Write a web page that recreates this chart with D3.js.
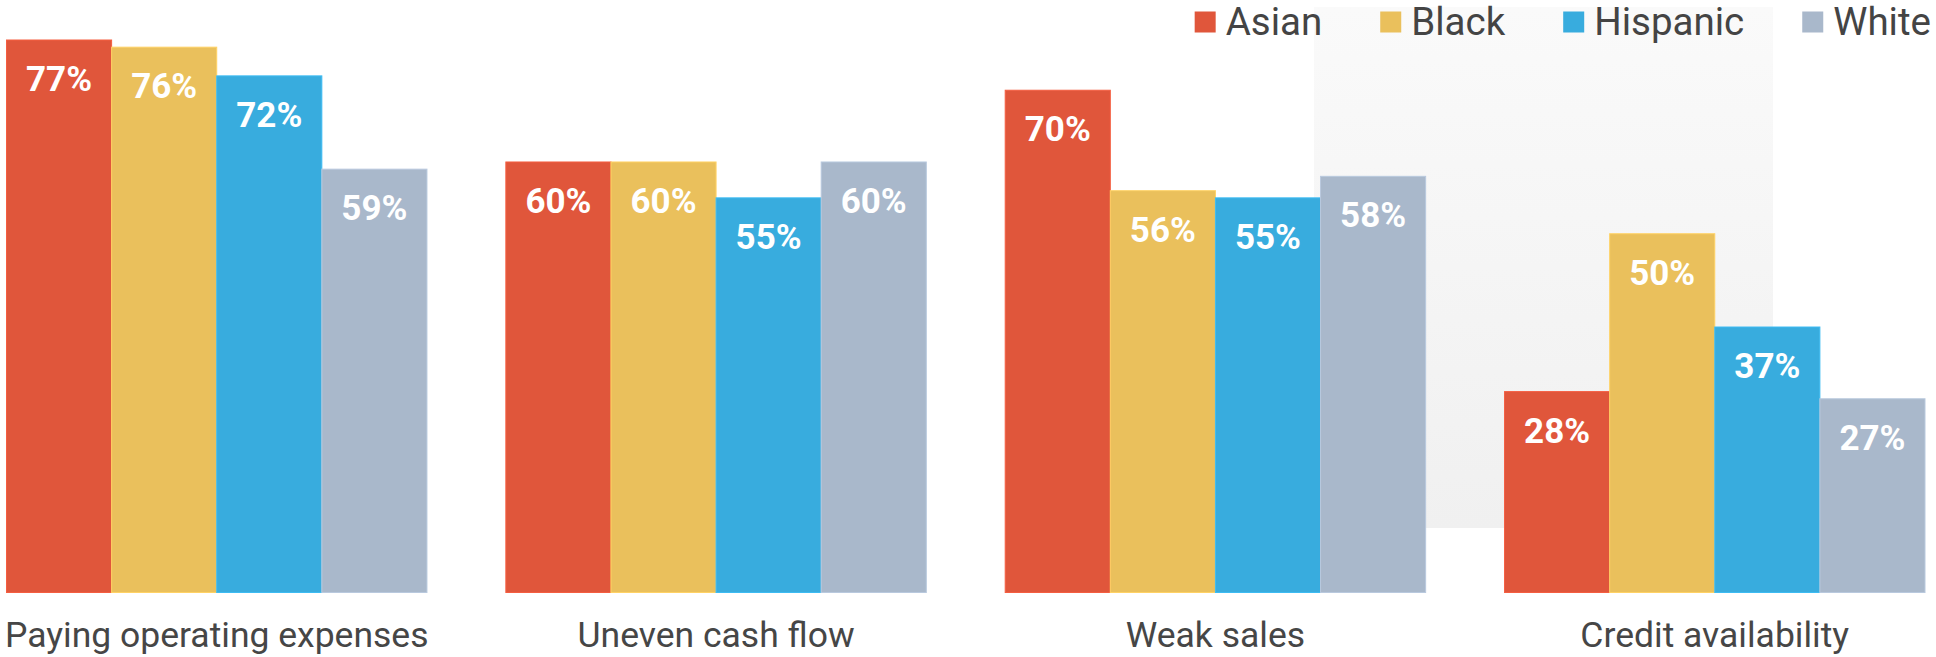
<html>
  <head>
    <meta charset="utf-8">
    <title>Financial challenges by race</title>
    <style type="text/css">
body {
  margin: 0;
  background: #fff;
}
#chart text {
  font-family: Roboto, "Noto Sans", sans-serif;
}
.value-label {
  fill: #fff;
  font-weight: 700;
  font-size: 35px;
}
.category-label {
  fill: #464646;
  font-size: 35.5px;
}
.legend-label {
  fill: #444;
  font-size: 38.5px;
}
    </style>
    <script type="text/javascript" src="https://cdn.jsdelivr.net/npm/d3@7/dist/d3.min.js"></script>
  </head>
  <body>
    <div id="chart"></div>
    <script type="text/javascript">
      // Data
      var categories = ["Paying operating expenses", "Uneven cash flow", "Weak sales", "Credit availability"];
      var series = ["Asian", "Black", "Hispanic", "White"];
      var asian = [77, 60, 70, 28];
      var black = [76, 60, 56, 50];
      var hispanic = [72, 55, 55, 37];
      var white = [59, 60, 58, 27];
      var colors = ["#e0563b", "#eac05c", "#38acde", "#a9b8cb"];

      var seriesValues = [asian, black, hispanic, white];

      // Constants
      var w = 1936, h = 657;
      var baseline = 592.5;

      var svg = d3.select("#chart").append("svg")
           .attr("width", w)
           .attr("height", h);

      // faint grey panel sitting behind the right half
      var defs = svg.append("defs");
      var grad = defs.append("linearGradient")
           .attr("id", "panel-grad")
           .attr("x1", 0).attr("y1", 0).attr("x2", 0).attr("y2", 1);
      grad.append("stop").attr("offset", "0%").attr("stop-color", "#fafafa");
      grad.append("stop").attr("offset", "100%").attr("stop-color", "#f0f0f0");
      svg.append("rect")
           .attr("x", 1314)
           .attr("y", 7)
           .attr("width", 459)
           .attr("height", 521)
           .attr("fill", "url(#panel-grad)");

      var x0 = d3.scaleBand()
           .domain(categories)
           .range([6.5, 1925])
           .paddingInner(0.158)
           .paddingOuter(0);

      var x1 = d3.scaleBand()
           .domain(series)
           .range([0, x0.bandwidth()]);

      var y = d3.scaleLinear()
           .domain([0, 77])
           .range([baseline, 40]);

      var color = d3.scaleOrdinal().domain(series).range(colors);

      var rows = categories.map(function(c, i) {
        return {
          category: c,
          bars: series.map(function(s, j) { return {key: s, value: seriesValues[j][i]}; })
        };
      });

      var groups = svg.selectAll(".group")
           .data(rows)
           .enter().append("g")
           .attr("class", "group")
           .attr("transform", function(d) { return "translate(" + x0(d.category) + ",0)"; });

      groups.selectAll("rect")
           .data(function(d) { return d.bars; })
           .enter().append("rect")
           .attr("x", function(d) { return x1(d.key); })
           .attr("y", function(d) { return y(d.value); })
           .attr("width", x1.bandwidth())
           .attr("height", function(d) { return baseline - y(d.value); })
           .attr("fill", function(d) { return color(d.key); })
           .attr("stroke", function(d) { return d3.color(color(d.key)).brighter(0.25); })
           .attr("stroke-width", 1);

      groups.selectAll(".value-label")
           .data(function(d) { return d.bars; })
           .enter().append("text")
           .attr("class", "value-label")
           .attr("x", function(d) { return x1(d.key) + x1.bandwidth() / 2; })
           .attr("y", function(d) { return y(d.value) + 51; })
           .attr("text-anchor", "middle")
           .text(function(d) { return d.value + "%"; });

      groups.append("text")
           .attr("class", "category-label")
           .attr("x", x0.bandwidth() / 2)
           .attr("y", 647)
           .attr("text-anchor", "middle")
           .text(function(d) { return d.category; });

      // Legend, laid out right to left so it ends at the right edge
      var legend = svg.append("g").attr("class", "legend");
      var lx = 1931;
      series.slice().reverse().forEach(function(s) {
        var t = legend.append("text")
             .attr("class", "legend-label")
             .attr("y", 34.5)
             .text(s);
        var tw = t.node().getComputedTextLength();
        t.attr("x", lx - tw);
        legend.append("rect")
             .attr("x", lx - tw - 31)
             .attr("y", 11.5)
             .attr("width", 21)
             .attr("height", 21)
             .attr("fill", color(s));
        lx = lx - tw - 31 - 58;
      });
    </script>
  </body>
</html>
